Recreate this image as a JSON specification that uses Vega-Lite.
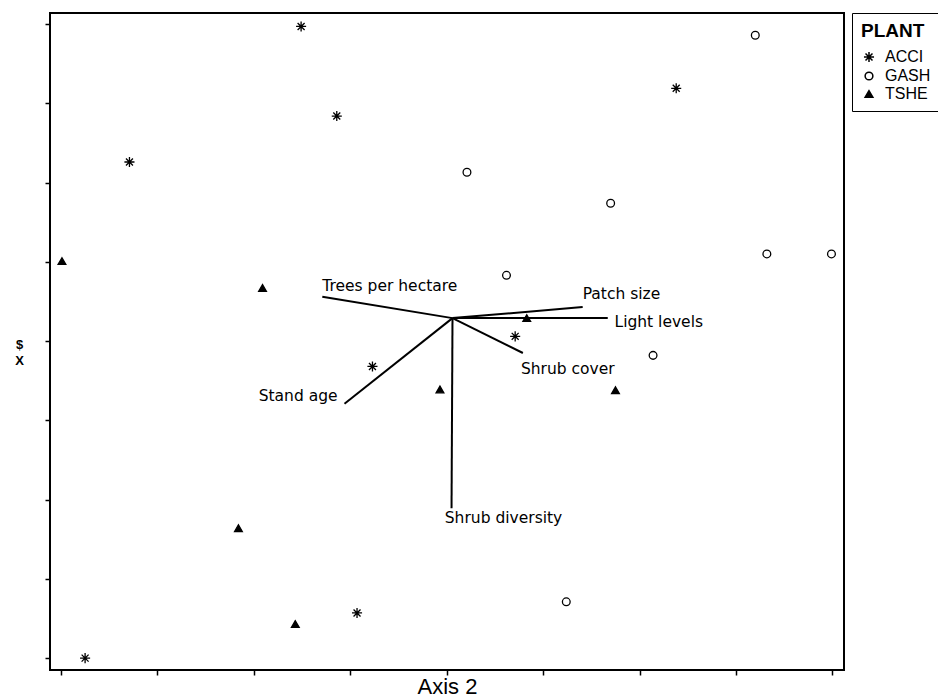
{
  "$schema": "https://vega.github.io/schema/vega-lite/v6.json",
  "width": 794,
  "height": 657,
  "autosize": {"type": "none"},
  "padding": {"left": 50, "top": 13, "right": 94, "bottom": 28},
  "background": "white",
  "config": {
    "view": {"stroke": "black", "strokeWidth": 2},
    "font": "Liberation Sans",
    "axis": {"domain": false, "grid": false, "labels": false, "ticks": true, "tickColor": "black", "tickWidth": 1.5, "tickSize": 5, "titleColor": "black"},
    "legend": {"orient": "none", "legendX": 802, "legendY": 0, "strokeColor": "black", "strokeWidth": 1, "fillColor": "white", "padding": 9, "titleFont": "Liberation Sans", "titleFontSize": 19, "titleFontWeight": "bold", "titleColor": "black", "titlePadding": 8, "labelFont": "Liberation Sans", "labelFontSize": 16, "labelColor": "black", "rowPadding": 2, "symbolSize": 60, "labelOffset": 8}
  },
  "layer": [
    {
      "data": {"values": [
        {"variable": "Trees per hectare", "x0": 4.06, "y0": 4.29, "x": 2.71, "y": 4.56},
        {"variable": "Patch size", "x0": 4.06, "y0": 4.29, "x": 5.41, "y": 4.43},
        {"variable": "Light levels", "x0": 4.06, "y0": 4.29, "x": 5.67, "y": 4.29},
        {"variable": "Shrub cover", "x0": 4.06, "y0": 4.29, "x": 4.79, "y": 3.85},
        {"variable": "Shrub diversity", "x0": 4.06, "y0": 4.29, "x": 4.05, "y": 1.89},
        {"variable": "Stand age", "x0": 4.06, "y0": 4.29, "x": 2.94, "y": 3.21}
      ]},
      "mark": {"type": "rule", "color": "black", "strokeWidth": 2},
      "encoding": {
        "x": {"field": "x0", "type": "quantitative", "scale": {"domain": [-0.114, 8.12], "nice": false, "zero": false}, "axis": {"values": [0,1,2,3,4,5,6,7,8], "title": "Axis 2", "titleFontSize": 22, "titleFont": "Liberation Sans", "titleFontWeight": "normal", "titlePadding": 1}},
        "y": {"field": "y0", "type": "quantitative", "scale": {"domain": [-0.15, 8.14], "nice": false, "zero": false}, "axis": {"values": [0,1,2,3,4,5,6,7,8], "title": ["$", "X"], "titleAngle": 0, "titleFontSize": 13, "titleFontWeight": "bold", "titleLineHeight": 16, "titleAlign": "center", "titleBaseline": "middle", "titleX": -31, "titleY": 331}},
        "x2": {"field": "x"},
        "y2": {"field": "y"}
      }
    },
    {
      "data": {"values": [
        {"variable": "Trees per hectare", "lx": 2.71, "ly": 4.69},
        {"variable": "Patch size", "lx": 5.41, "ly": 4.59},
        {"variable": "Light levels", "lx": 5.74, "ly": 4.24},
        {"variable": "Shrub cover", "lx": 4.77, "ly": 3.65},
        {"variable": "Shrub diversity", "lx": 3.98, "ly": 1.77},
        {"variable": "Stand age", "lx": 2.05, "ly": 3.31}
      ]},
      "mark": {"type": "text", "align": "left", "baseline": "middle", "font": "DejaVu Sans", "fontSize": 15.5, "color": "black"},
      "encoding": {
        "x": {"field": "lx", "type": "quantitative"},
        "y": {"field": "ly", "type": "quantitative"},
        "text": {"field": "variable"}
      }
    },
    {
      "data": {"values": [
        {"plant": "ACCI", "x": 2.49, "y": 7.97},
        {"plant": "ACCI", "x": 2.86, "y": 6.84},
        {"plant": "ACCI", "x": 0.71, "y": 6.26},
        {"plant": "ACCI", "x": 6.38, "y": 7.19},
        {"plant": "ACCI", "x": 4.71, "y": 4.06},
        {"plant": "ACCI", "x": 3.23, "y": 3.68},
        {"plant": "ACCI", "x": 3.07, "y": 0.57},
        {"plant": "ACCI", "x": 0.25, "y": 0.0},
        {"plant": "GASH", "x": 7.20, "y": 7.86},
        {"plant": "GASH", "x": 4.21, "y": 6.13},
        {"plant": "GASH", "x": 5.70, "y": 5.74},
        {"plant": "GASH", "x": 4.62, "y": 4.83},
        {"plant": "GASH", "x": 7.32, "y": 5.10},
        {"plant": "GASH", "x": 7.99, "y": 5.10},
        {"plant": "GASH", "x": 6.14, "y": 3.82},
        {"plant": "GASH", "x": 5.24, "y": 0.71},
        {"plant": "TSHE", "x": 0.01, "y": 5.01},
        {"plant": "TSHE", "x": 2.09, "y": 4.67},
        {"plant": "TSHE", "x": 4.83, "y": 4.29},
        {"plant": "TSHE", "x": 3.93, "y": 3.39},
        {"plant": "TSHE", "x": 5.75, "y": 3.38},
        {"plant": "TSHE", "x": 1.84, "y": 1.64},
        {"plant": "TSHE", "x": 2.43, "y": 0.43}
      ]},
      "mark": {"type": "point", "stroke": "black", "strokeWidth": 1.3, "opacity": 1, "size": 60},
      "encoding": {
        "x": {"field": "x", "type": "quantitative"},
        "y": {"field": "y", "type": "quantitative"},
        "shape": {"field": "plant", "type": "nominal", "title": "PLANT", "scale": {"domain": ["ACCI", "GASH", "TSHE"], "range": ["M-1.3,0H1.3M0,-1.3V1.3M-0.9,-0.9L0.9,0.9M-0.9,0.9L0.9,-0.9", "circle", "triangle-up"]}, "legend": {"encode": {"symbols": {"update": {"stroke": {"value": "black"}, "strokeWidth": {"value": 1.3}, "opacity": {"value": 1}}}}}},
        "fill": {"field": "plant", "type": "nominal", "title": "PLANT", "scale": {"domain": ["ACCI", "GASH", "TSHE"], "range": ["transparent", "white", "black"]}, "legend": {"encode": {"symbols": {"update": {"stroke": {"value": "black"}, "strokeWidth": {"value": 1.3}, "opacity": {"value": 1}}}}}}
      }
    }
  ]
}
